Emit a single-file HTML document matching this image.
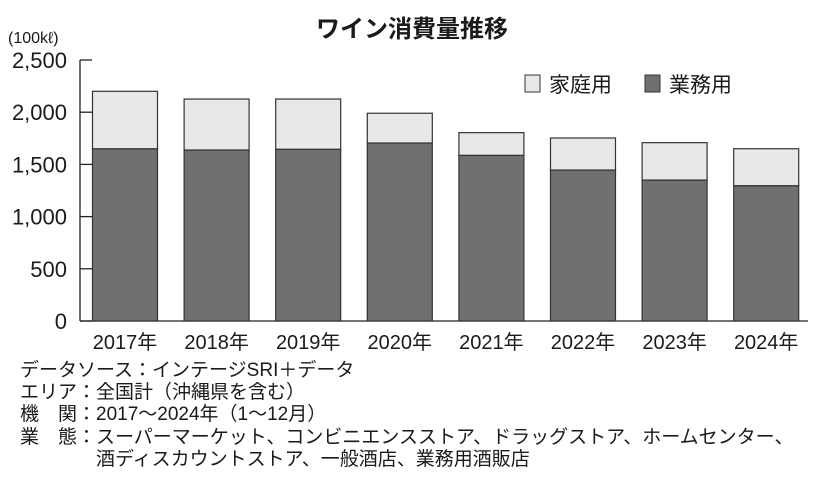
<!DOCTYPE html>
<html><head><meta charset="utf-8"><style>
body{margin:0;background:#fff;width:820px;height:487px;overflow:hidden;font-family:"Liberation Sans","Noto Sans CJK JP",sans-serif;color:#1a1a1a}
.note{position:absolute;left:20px;font-size:19px;line-height:22px;white-space:nowrap}
</style></head><body>
<svg width="820" height="360" style="position:absolute;left:0;top:0" font-family="Liberation Sans, Noto Sans CJK JP, sans-serif">
<text x="412" y="37" text-anchor="middle" font-size="24" font-weight="bold" fill="#1a1a1a">ワイン消費量推移</text>
<text x="8" y="43" font-size="16" fill="#1a1a1a">(100kℓ)</text>
<g id="axes"></g><g id="bars"></g>
<rect x="525" y="75" width="15" height="17" fill="#e8e8e8" stroke="#333"/>
<text x="549" y="92" font-size="21" fill="#1a1a1a">家庭用</text>
<rect x="645" y="75" width="15" height="17" fill="#707070" stroke="#333"/>
<text x="669" y="92" font-size="21" fill="#1a1a1a">業務用</text>
</svg>
<div class="note" style="top:360px">データソース：インテージSRI＋データ</div>
<div class="note" style="top:382px">エリア：全国計（沖縄県を含む）</div>
<div class="note" style="top:404px">機　関：2017～2024年（1～12月）</div>
<div class="note" style="top:427px">業　態：スーパーマーケット、コンビニエンスストア、ドラッグストア、ホームセンター、<br>　　　　酒ディスカウントストア、一般酒店、業務用酒販店</div>
<script>
const categories=["2017年","2018年","2019年","2020年","2021年","2022年","2023年","2024年"];
const business=[1650,1638,1645,1705,1587,1446,1350,1296];
const household=[550,488,481,285,217,307,358,354];
const yTicks=[0,500,1000,1500,2000,2500];
const NS="http://www.w3.org/2000/svg";
const x0=80,x1=800,yBase=321,yTop=60,yMax=2500;
const y=v=>yBase-(v/yMax)*(yBase-yTop);
const step=91.6,bw=65,bx=i=>92.5+i*step;
function mk(t,a,p){const e=document.createElementNS(NS,t);for(const k in a)e.setAttribute(k,a[k]);p.appendChild(e);return e;}
const ax=document.getElementById('axes'),bars=document.getElementById('bars');
const yl=mk('line',{x1:x0,y1:yTop,x2:x0,y2:yBase,stroke:'#222','stroke-width':1.3},ax);

const xl=mk('line',{x1:x0,y1:yBase,x2:x1+8,y2:yBase,stroke:'#222','stroke-width':1.3},ax);

yTicks.forEach(v=>{
 const tk=mk('line',{x1:x0,y1:y(v),x2:x0+12,y2:y(v),stroke:'#222','stroke-width':1.3},ax);
 
 const t=mk('text',{x:67,y:y(v)+8,'text-anchor':'end','font-size':22,fill:'#1a1a1a'},ax);
 
 t.textContent=v.toLocaleString('en-US');
});
categories.forEach((c,i)=>{
 const b=mk('rect',{x:bx(i),y:y(business[i]),width:bw,height:yBase-y(business[i]),fill:'#707070',stroke:'#333','stroke-width':1.2},bars);
 
 const tot=business[i]+household[i];
 const h=mk('rect',{x:bx(i),y:y(tot),width:bw,height:y(business[i])-y(tot),fill:'#e8e8e8',stroke:'#333','stroke-width':1.2},bars);
 
 const t=mk('text',{x:bx(i)+bw/2,y:349,'text-anchor':'middle','font-size':20,fill:'#1a1a1a'},ax);
 
 t.textContent=c;
});
</script>
</body></html>
